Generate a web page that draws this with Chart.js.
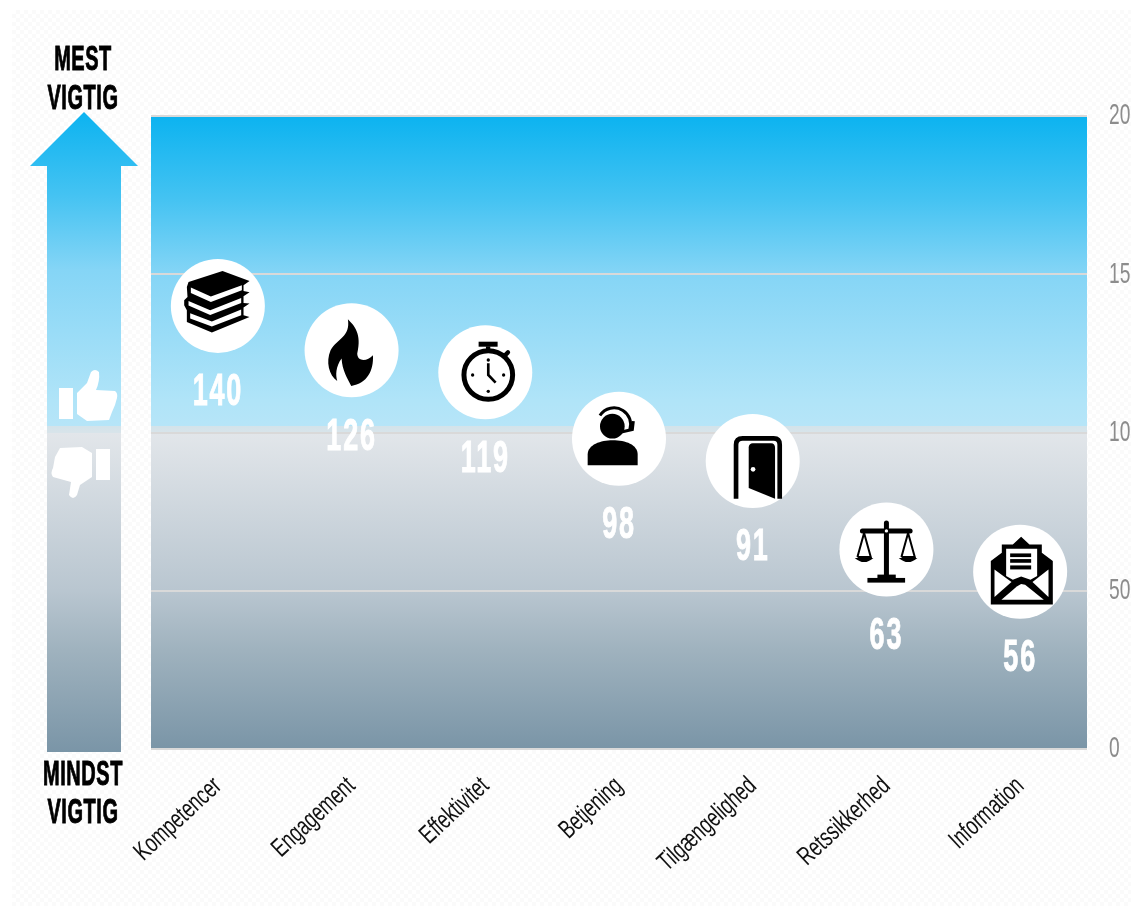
<!DOCTYPE html>
<html lang="da">
<head>
<meta charset="utf-8">
<title>Vigtighed</title>
<script src="https://cdn.jsdelivr.net/npm/chart.js@4"></script>
<style>
  html, body { margin: 0; padding: 0; background: #fff; width: 1131px; height: 906px; overflow: hidden; }
  #panel {
    position: absolute; left: 12px; top: 10px; width: 1119px; height: 896px;
    background: repeating-conic-gradient(#fafafa 0 25%, #ffffff 0 50%) 0 0 / 8px 8px;
  }
  #wrap { position: absolute; left: 0; top: 0; width: 1200px; height: 906px; }
</style>
</head>
<body>
<div id="panel"></div>
<div id="wrap"><canvas id="chart" width="1200" height="906"></canvas></div>
<script>
const categories = ['Kompetencer', 'Engagement', 'Effektivitet', 'Betjening', 'Tilgængelighed', 'Retssikkerhed', 'Information'];
const scores = [140, 126, 119, 98, 91, 63, 56];
const axisTicks = [0, 50, 100, 150, 200];
const upperLabel = ['MEST', 'VIGTIG'];
const lowerLabel = ['MINDST', 'VIGTIG'];

const FACE = '"Liberation Sans", sans-serif';

// Heavy display lettering: squeezed horizontally and thickened with an outline.
function squeezed(ctx, text, x, y, size, sx, color, weight, spacing) {
  ctx.save();
  ctx.translate(x, y + 2);
  ctx.scale(sx, 1);
  ctx.font = `bold ${size}px ${FACE}`;
  ctx.letterSpacing = (spacing || 0) + 'px';
  ctx.fillStyle = color;
  ctx.strokeStyle = color;
  ctx.lineWidth = weight;
  ctx.lineJoin = 'miter';
  ctx.textAlign = 'center';
  ctx.textBaseline = 'middle';
  ctx.strokeText(text, 0, 0);
  ctx.fillText(text, 0, 0);
  ctx.restore();
}

// Narrows an axis's tick text while the scale lays it out as usual.
function narrowLabels(scale, sx) {
  if (scale.narrowed) return;
  scale.narrowed = true;
  const base = scale.drawLabels;
  scale.drawLabels = function (area) {
    const ctx = this.ctx;
    const fill = ctx.fillText;
    ctx.fillText = function (t, x, y) {
      ctx.save();
      ctx.scale(sx, 1);
      fill.call(ctx, t, x / sx, y);
      ctx.restore();
    };
    base.call(this, area);
    ctx.fillText = fill;
  };
}

function poly(ctx, pts, color) {
  ctx.beginPath();
  pts.forEach((p, i) => i ? ctx.lineTo(p[0], p[1]) : ctx.moveTo(p[0], p[1]));
  ctx.closePath();
  ctx.fillStyle = color;
  ctx.fill();
}
function seg(ctx, pts, lw, color) {
  ctx.beginPath();
  pts.forEach((p, i) => i ? ctx.lineTo(p[0], p[1]) : ctx.moveTo(p[0], p[1]));
  ctx.lineWidth = lw;
  ctx.strokeStyle = color || '#000';
  ctx.stroke();
}
function dot(ctx, x, y, r, color) {
  ctx.beginPath();
  ctx.arc(x, y, r, 0, Math.PI * 2);
  ctx.fillStyle = color || '#000';
  ctx.fill();
}

// Pictograms: drawn in a 282-unit box centred on the point (one third of a pixel per unit).
const icons = [
  function books(c) {
    poly(c, [[-88,-72],[14,-105],[95,-75],[77,-62],[77,-45],[95,-41],[77,-29],[77,-9],[95,-7],[77,5],[77,28],[95,33],[-18,80],[-93,48],[-93,13],[-101,-2],[-101,-17],[-91,-27],[-93,-57]], '#000');
    poly(c, [[-81,-55],[-21,-28],[72,-62],[72,-47],[-21,-12],[-81,-39]], '#fff');
    poly(c, [[-88,-15],[-23,13],[70,-24],[70,-9],[-23,27],[-88,-1]], '#fff');
    poly(c, [[-83,22],[-18,47],[70,11],[70,28],[-18,62],[-83,38]], '#fff');
  },
  function flame(c) {
    c.beginPath();
    c.moveTo(-11, -93);
    c.bezierCurveTo(7, -75, 32, -50, 17, 10);
    c.bezierCurveTo(17, 35, 47, 35, 64, 15);
    c.bezierCurveTo(67, 60, 47, 100, -1, 107);
    c.bezierCurveTo(-13, 85, -28, 60, -30, 25);
    c.bezierCurveTo(-48, 50, -48, 75, -43, 92);
    c.bezierCurveTo(-68, 75, -78, 35, -63, 0);
    c.bezierCurveTo(-43, -35, -3, -40, -11, -93);
    c.closePath();
    c.fillStyle = '#000';
    c.fill();
  },
  function stopwatch(c) {
    c.beginPath();
    c.arc(9, 8, 73, 0, Math.PI * 2);
    c.lineWidth = 15;
    c.strokeStyle = '#000';
    c.stroke();
    c.fillStyle = '#000';
    c.fillRect(-20, -92, 57, 15);
    c.fillRect(2, -78, 13, 12);
    c.lineCap = 'round';
    seg(c, [[58, -50], [68, -60]], 13);
    c.lineCap = 'butt';
    dot(c, 9, -37, 5); dot(c, -38, 8, 5); dot(c, 55, 8, 5); dot(c, 9, 57, 5);
    seg(c, [[9, -27], [9, 8], [31, 31]], 8);
  },
  function headset(c) {
    c.beginPath();
    c.moveTo(-94, 79);
    c.lineTo(-94, 47);
    c.bezierCurveTo(-94, 17, -55, 4, -19, 4);
    c.bezierCurveTo(20, 4, 56, 17, 56, 47);
    c.lineTo(56, 79);
    c.closePath();
    c.fillStyle = '#000';
    c.fill();
    dot(c, -20, -38, 37);
    c.beginPath();
    c.arc(-15, -43, 50, Math.PI * 1.18, Math.PI * 2.1);
    c.lineWidth = 9;
    c.strokeStyle = '#000';
    c.stroke();
    seg(c, [[43, -53], [40, -28], [-3, -18]], 9);
    dot(c, -7, -17, 6);
  },
  function door(c) {
    c.beginPath();
    c.moveTo(-50, 113);
    c.lineTo(-50, -49);
    c.quadraticCurveTo(-50, -68, -30, -68);
    c.lineTo(63, -68);
    c.quadraticCurveTo(81, -68, 81, -49);
    c.lineTo(81, 113);
    c.lineWidth = 14;
    c.strokeStyle = '#000';
    c.stroke();
    c.beginPath();
    c.moveTo(-12, -42);
    c.quadraticCurveTo(-10, -53, 0, -53);
    c.lineTo(55, -53);
    c.quadraticCurveTo(67, -53, 67, -39);
    c.lineTo(67, 113);
    c.lineTo(-12, 81);
    c.closePath();
    c.fillStyle = '#000';
    c.fill();
    dot(c, 1, 25, 7, '#fff');
  },
  function scales(c) {
    c.lineCap = 'round';
    seg(c, [[0, -80], [0, 85]], 15);
    seg(c, [[-72, -56], [71, -56]], 15);
    c.lineCap = 'butt';
    c.fillStyle = '#000';
    c.fillRect(-57, 85, 113, 14);
    c.fillRect(-27, 75, 55, 12);
    dot(c, 0, -56, 5, '#fff');
    seg(c, [[-87, 22], [-67, -50], [-47, 22], [-87, 22]], 6);
    seg(c, [[45, 22], [65, -50], [85, 22], [45, 22]], 6);
    [-67, 65].forEach(cx => {
      c.beginPath();
      c.moveTo(cx - 28, 25);
      c.quadraticCurveTo(cx, 50, cx + 28, 25);
      c.closePath();
      c.fillStyle = '#000';
      c.fill();
    });
  },
  function envelope(c) {
    poly(c, [[-88,-32],[-55,-57],[-55,-82],[-22,-82],[3,-105],[28,-82],[65,-82],[65,-57],[98,-32],[98,98],[-88,98]], '#000');
    poly(c, [[-42,-69],[51,-69],[51,13],[31,24],[3,14],[-22,24],[-42,13]], '#fff');
    c.fillStyle = '#000';
    c.fillRect(-30, -55, 63, 11);
    c.fillRect(-30, -38, 63, 11);
    c.fillRect(-30, -19, 63, 12);
    poly(c, [[-77,-7],[-26,31],[-77,76]], '#fff');
    poly(c, [[85,-7],[37,31],[85,76]], '#fff');
    poly(c, [[-56,84],[-10,44],[3,37],[15,39],[71,84]], '#fff');
  }
];

// Gradient running from the value axis top to bottom, with the light break near the midline.
function panelGradient(ctx, top, bottom, mid) {
  const g = ctx.createLinearGradient(0, top, 0, bottom);
  const h = bottom - top;
  const at = y => Math.min(1, Math.max(0, (y - top) / h));
  g.addColorStop(0, '#0cb3f0');
  g.addColorStop(at(top + 84), '#45c3f2');
  g.addColorStop(at(top + 158), '#85d5f6');
  g.addColorStop(at(mid - 32), '#b0e4f8');
  g.addColorStop(at(mid - 7), '#b6e5f8');
  g.addColorStop(at(mid - 6.5), '#d3e3ea');
  g.addColorStop(at(mid), '#d8e4ea');
  g.addColorStop(at(mid + 0.5), '#e2e6ea');
  g.addColorStop(at(mid + 158), '#b9c6d0');
  g.addColorStop(at(mid + 218), '#9fb2be');
  g.addColorStop(1, '#7a95a7');
  return g;
}

const backdrop = {
  id: 'backdrop',
  beforeDraw(chart) {
    const { ctx, chartArea: a, scales: { y } } = chart;
    const mid = y.getPixelForValue(100);
    ctx.save();
    ctx.fillStyle = panelGradient(ctx, a.top, a.bottom, mid);
    ctx.fillRect(a.left, a.top, a.right - a.left, a.bottom - a.top);

    // Direction arrow to the left of the plot
    ctx.fillStyle = panelGradient(ctx, 112, 752, mid);
    ctx.beginPath();
    [[84,112],[138,166],[121,166],[121,752],[47,752],[47,166],[30,166]].forEach((p, i) =>
      i ? ctx.lineTo(p[0], p[1]) : ctx.moveTo(p[0], p[1]));
    ctx.closePath();
    ctx.fill();

    // Thumb up
    ctx.fillStyle = '#fff';
    ctx.fillRect(59, 388, 14, 31);
    ctx.beginPath();
    ctx.moveTo(77, 393);
    ctx.lineTo(87, 383);
    ctx.lineTo(91, 372);
    ctx.quadraticCurveTo(95, 368, 99, 372);
    ctx.quadraticCurveTo(100, 381, 96, 390);
    ctx.lineTo(115, 391);
    ctx.quadraticCurveTo(118, 393, 117, 398);
    ctx.lineTo(115, 405);
    ctx.lineTo(112, 412);
    ctx.lineTo(109, 420);
    ctx.lineTo(87, 421);
    ctx.lineTo(77, 414);
    ctx.closePath();
    ctx.fill();

    // Thumb down
    ctx.fillRect(96, 449, 14, 31);
    ctx.beginPath();
    ctx.moveTo(92, 453);
    ctx.lineTo(92, 477);
    ctx.lineTo(80, 485);
    ctx.lineTo(77, 495);
    ctx.quadraticCurveTo(73, 501, 69, 495);
    ctx.lineTo(71, 482);
    ctx.lineTo(53, 477);
    ctx.quadraticCurveTo(50, 473, 53, 468);
    ctx.lineTo(55, 457);
    ctx.lineTo(60, 448);
    ctx.lineTo(82, 447);
    ctx.closePath();
    ctx.fill();
    ctx.restore();
  },
  afterDatasetsDraw(chart) {
    const { ctx } = chart;
    const points = chart.getDatasetMeta(0).data;
    points.forEach((pt, i) => {
      ctx.save();
      ctx.translate(pt.x, pt.y);
      ctx.scale(1 / 3, 1 / 3);
      icons[i](ctx);
      ctx.restore();
      squeezed(ctx, String(scores[i]), pt.x, pt.y + 85, 45, 0.6, '#ffffff', 1, 3);
    });
    squeezed(ctx, upperLabel[0], 83, 58, 35, 0.57, '#000', 1, 1);
    squeezed(ctx, upperLabel[1], 83, 97, 35, 0.57, '#000', 1, 1);
    squeezed(ctx, lowerLabel[0], 83, 773, 35, 0.57, '#000', 1, 1);
    squeezed(ctx, lowerLabel[1], 83, 811, 35, 0.57, '#000', 1, 1);
  }
};

new Chart(document.getElementById('chart'), {
  type: 'line',
  data: {
    labels: categories,
    datasets: [{
      data: scores,
      showLine: false,
      pointRadius: 47,
      pointHoverRadius: 47,
      pointBackgroundColor: '#ffffff',
      pointBorderWidth: 0,
      clip: false
    }]
  },
  options: {
    responsive: false,
    animation: false,
    events: [],
    layout: { padding: { left: 151, top: 116, right: 0, bottom: 0 } },
    plugins: { legend: { display: false }, tooltip: { enabled: false } },
    scales: {
      x: {
        type: 'category',
        offset: true,
        grid: { display: false },
        border: { display: false },
        afterFit: s => { s.height = 157; narrowLabels(s, 0.7); },
        ticks: {
          autoSkip: false,
          minRotation: 43,
          maxRotation: 43,
          padding: 14,
          color: '#111111',
          font: { family: FACE, size: 26 }
        }
      },
      y: {
        position: 'right',
        min: 0,
        max: 200,
        afterBuildTicks: s => { s.ticks = axisTicks.map(value => ({ value })); },
        afterFit: s => { s.width = 113; narrowLabels(s, 0.64); },
        grid: { color: '#d9d9d9', lineWidth: 2, drawTicks: false },
        border: { display: false },
        ticks: {
          padding: 22,
          color: '#8c8c8c',
          font: { family: FACE, size: 30 }
        }
      }
    }
  },
  plugins: [backdrop]
});
</script>
</body>
</html>
